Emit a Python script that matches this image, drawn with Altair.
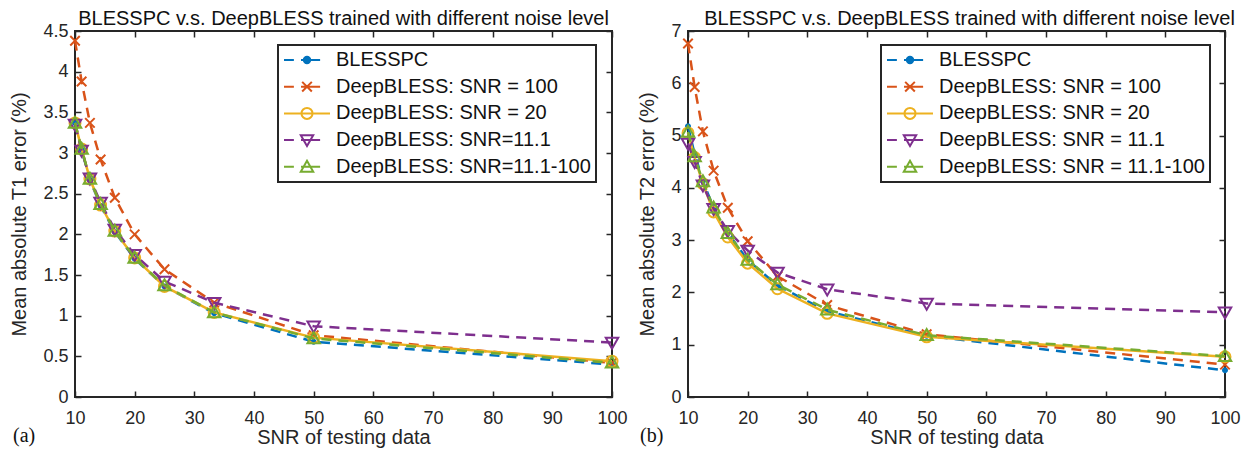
import altair as alt
import pandas as pd

# ---------------- data ----------------
snr = [10, 11.11, 12.5, 14.29, 16.67, 20, 25, 33.33, 50, 100]

series_a = ["BLESSPC", "DeepBLESS: SNR = 100", "DeepBLESS: SNR = 20",
            "DeepBLESS: SNR=11.1", "DeepBLESS: SNR=11.1-100"]
series_b = ["BLESSPC", "DeepBLESS: SNR = 100", "DeepBLESS: SNR = 20",
            "DeepBLESS: SNR = 11.1", "DeepBLESS: SNR = 11.1-100"]

# Mean absolute T1 error (%)
t1_blesspc = [3.37, 3.04, 2.67, 2.35, 2.03, 1.70, 1.36, 1.03, 0.68, 0.40]
t1_snr100 = [4.38, 3.88, 3.37, 2.92, 2.45, 2.00, 1.57, 1.16, 0.76, 0.42]
t1_snr20 = [3.37, 3.05, 2.68, 2.36, 2.04, 1.71, 1.36, 1.04, 0.73, 0.44]
t1_snr11 = [3.35, 3.03, 2.69, 2.39, 2.06, 1.75, 1.42, 1.16, 0.87, 0.67]
t1_mixed = [3.37, 3.05, 2.68, 2.37, 2.04, 1.71, 1.37, 1.04, 0.72, 0.42]

# Mean absolute T2 error (%)
t2_blesspc = [5.18, 4.65, 4.13, 3.62, 3.14, 2.62, 2.13, 1.64, 1.17, 0.51]
t2_snr100 = [6.76, 5.93, 5.08, 4.33, 3.62, 2.98, 2.31, 1.76, 1.20, 0.62]
t2_snr20 = [5.05, 4.58, 4.08, 3.54, 3.06, 2.56, 2.07, 1.60, 1.15, 0.77]
t2_snr11 = [4.85, 4.50, 4.05, 3.60, 3.18, 2.80, 2.38, 2.06, 1.79, 1.62]
t2_mixed = [5.07, 4.60, 4.12, 3.62, 3.13, 2.62, 2.15, 1.67, 1.18, 0.78]

x_ticks = [10, 20, 30, 40, 50, 60, 70, 80, 90, 100]
y_ticks_a = [0, 0.5, 1, 1.5, 2, 2.5, 3, 3.5, 4, 4.5]
y_ticks_b = [0, 1, 2, 3, 4, 5, 6, 7]

# ---------------- style ----------------
COLORS = ["#0072BD", "#D95319", "#EDB120", "#7E2F8E", "#77AC30"]
DASHES = [[10, 7], [10, 7], None, [10, 7], [10, 7]]
FONT = "Liberation Sans"
INK = "#262626"
W, H = 537, 366


def circ(r):
    return f"M{-r},0A{r},{r},0,1,1,{r},0A{r},{r},0,1,1,{-r},0Z"


# plot markers (unit = sqrt(size)/2 = 5px)
MARKERS = [
    circ(0.6) + circ(0.25),
    "M-0.95,-0.95L0.95,0.95M-0.95,0.95L0.95,-0.95",
    circ(1.1),
    "M-1.25,-0.95L1.25,-0.95L0,1.25Z",
    "M-1.25,0.95L1.25,0.95L0,-1.25Z",
]
MARKER_FILLED = [True, False, False, False, False]

# legend symbols (unit = 23px): line sample + marker
DASHED = "M-1,0L-0.57,0M-0.26,0L0.57,0"
SOLID = "M-1,0L1,0"
LEGEND_SHAPES = [
    DASHED + circ(0.14) + circ(0.06),
    DASHED + "M-0.21,-0.21L0.21,0.21M-0.21,0.21L0.21,-0.21",
    SOLID + circ(0.24),
    DASHED + "M-0.27,-0.21L0.27,-0.21L0,0.26Z",
    DASHED + "M-0.27,0.21L0.27,0.21L0,-0.26Z",
]


def make_df(series, values):
    rows = []
    for s, vals in zip(series, values):
        for x, v in zip(snr, vals):
            rows.append({"snr": x, "err": v, "series": s})
    return pd.DataFrame(rows)


def panel(series, values, ymax, yticks, ytitle, tag, legend_x, tag_x, title_dx):
    df = make_df(series, values)
    xs = alt.Scale(domain=[10, 100], nice=False, zero=False)
    ys = alt.Scale(domain=[0, ymax], nice=False, zero=False)
    base = alt.Chart(df)

    layers = []
    for i, s in enumerate(series):
        sub = base.transform_filter(alt.datum.series == s)
        if i == 0:
            lx = alt.Axis(values=x_ticks, title="SNR of testing data", ticks=False,
                          tickSize=0, labelPadding=12, titlePadding=0, format="d")
            ly = alt.Axis(values=yticks, title=ytitle, ticks=False, tickSize=0,
                          labelPadding=7, titlePadding=13, format="~g")
            mx = alt.Axis(orient="top", offset=-H, values=x_ticks, labels=False,
                          title=None, ticks=True)
            my = alt.Axis(orient="right", offset=-W, values=yticks, labels=False,
                          title=None, ticks=True)
        else:
            lx = ly = mx = my = None
        line_kw = dict(color=COLORS[i], strokeWidth=2.5)
        if DASHES[i] is not None:
            line_kw["strokeDash"] = DASHES[i]
        line = sub.mark_line(**line_kw).encode(
            x=alt.X("snr:Q", scale=xs, axis=lx),
            y=alt.Y("err:Q", scale=ys, axis=ly),
            order="snr:Q",
        )
        pts = sub.mark_point(
            shape=MARKERS[i], size=100, filled=MARKER_FILLED[i],
            color=COLORS[i], strokeWidth=2, opacity=1,
        ).encode(
            x=alt.X("snr:Q", scale=xs, axis=mx),
            y=alt.Y("err:Q", scale=ys, axis=my),
        )
        layers += [line, pts]

    leg = alt.Legend(title=None, orient="none", legendX=legend_x, legendY=14)
    legend_layer = base.mark_point(size=0, filled=False, strokeWidth=2, opacity=1).encode(
        x=alt.X("snr:Q", scale=xs, axis=alt.Axis(
            orient="bottom", offset=-H, values=x_ticks, labels=False, title=None,
            ticks=True)),
        y=alt.Y("err:Q", scale=ys, axis=alt.Axis(
            orient="left", offset=-W, values=yticks, labels=False, title=None,
            ticks=True)),
        color=alt.Color("series:N", scale=alt.Scale(domain=series, range=COLORS),
                        legend=leg),
        shape=alt.Shape("series:N", scale=alt.Scale(domain=series, range=LEGEND_SHAPES),
                        legend=leg),
    )

    tag_layer = alt.Chart(pd.DataFrame({"t": [tag]})).mark_text(
        font="Liberation Serif", fontSize=20, align="left", baseline="middle",
        color="#111111",
    ).encode(text="t:N", x=alt.value(tag_x), y=alt.value(H + 39))

    return alt.layer(*layers, legend_layer, tag_layer).resolve_scale(
        x="independent", y="independent"
    ).properties(
        width=W, height=H,
        title=alt.TitleParams(
            "BLESSPC v.s. DeepBLESS trained with different noise level",
            frame="group", anchor="middle", offset=-7, dx=title_dx,
        ),
    )


left = panel(series_a, [t1_blesspc, t1_snr100, t1_snr20, t1_snr11, t1_mixed],
             4.5, y_ticks_a, "Mean absolute T1 error (%)", "(a)", 203, -62, 0)
right = panel(series_b, [t2_blesspc, t2_snr100, t2_snr20, t2_snr11, t2_mixed],
              7, y_ticks_b, "Mean absolute T2 error (%)", "(b)", 193, -48, 13)

chart = alt.hconcat(left, right, spacing=7).resolve_scale(
    color="independent", shape="independent"
).properties(
    padding={"top": 0, "bottom": 0, "left": 0, "right": 0}
).configure_view(
    stroke=INK, strokeWidth=2
).configure_axis(
    labelFont=FONT, labelFontSize=18, labelColor=INK,
    titleFont=FONT, titleFontSize=20, titleFontWeight="normal", titleColor=INK,
    grid=False, domain=False, tickColor=INK, tickWidth=1.5, tickSize=6,
    labelFlush=False,
).configure_title(
    font=FONT, fontSize=20, fontWeight="normal", color="#111111",
).configure_legend(
    labelFont=FONT, labelFontSize=20, labelColor="#111111", labelLimit=400,
    symbolSize=2116, symbolStrokeWidth=2, padding=5, strokeColor=INK,
    strokeWidth=2, fillColor="white", rowPadding=6.7, labelOffset=5,
    clipHeight=20, cornerRadius=0,
)

chart.save("out.html", embed_options={"renderer": "svg", "actions": False})
